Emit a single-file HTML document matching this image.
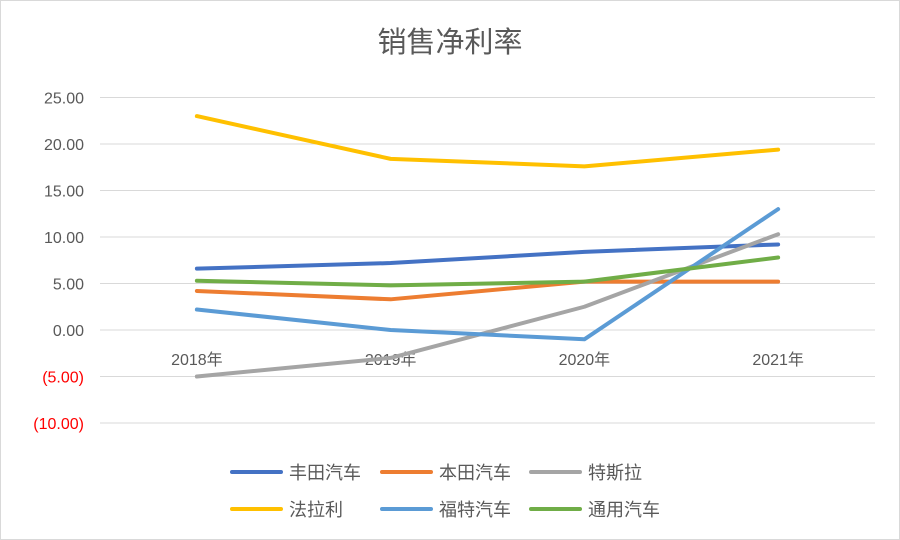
<!DOCTYPE html>
<html><head><meta charset="utf-8"><style>
body{margin:0;background:#fff}
svg{display:block;font-family:"Liberation Sans","Noto Sans CJK SC",sans-serif}
</style></head><body>
<svg width="900" height="540" viewBox="0 0 900 540">
<rect x="0.5" y="0.5" width="899" height="539" fill="#fff" stroke="#d9d9d9"/>
<text x="450" y="52" font-size="29" fill="#595959" text-anchor="middle">销售净利率</text>
<g id="grid"></g><g id="ylab"></g><g id="xlab"></g><g id="series"></g><g id="legend"></g>
</svg>
<script>
const categories=["2018年","2019年","2020年","2021年"];
const seriesNames=["丰田汽车","本田汽车","特斯拉","法拉利","福特汽车","通用汽车"];
const toyota=[6.6,7.2,8.4,9.2];
const honda=[4.2,3.3,5.2,5.2];
const tesla=[-5.0,-3.0,2.5,10.3];
const ferrari=[23.0,18.4,17.6,19.4];
const ford=[2.2,0.0,-1.0,13.0];
const gm=[5.3,4.8,5.2,7.8];
const yTicks=[25,20,15,10,5,0,-5,-10];
const yTickLabels=["25.00","20.00","15.00","10.00","5.00","0.00","(5.00)","(10.00)"];
const colors=["#4472c4","#ed7d31","#a5a5a5","#ffc000","#5b9bd5","#70ad47"];
const allSeries=[toyota,honda,tesla,ferrari,ford,gm];
const NS="http://www.w3.org/2000/svg";
const x0=100,x1=875,yZero=330,pxPer=9.3;
const y=v=>yZero-v*pxPer;
const x=i=>x0+(x1-x0)*(i+0.5)/categories.length;
function mk(t,a,p){const e=document.createElementNS(NS,t);for(const k in a)e.setAttribute(k,a[k]);p.appendChild(e);return e;}
const grid=document.getElementById('grid'),ylab=document.getElementById('ylab'),xlab=document.getElementById('xlab'),ser=document.getElementById('series'),leg=document.getElementById('legend');
yTicks.forEach((v,i)=>{
 const l=mk('line',{x1:x0,x2:x1,y1:y(v),y2:y(v),stroke:"#d9d9d9","stroke-width":1},grid);
 
 
 const t=mk('text',{x:84,y:y(v)+6,"font-size":16,"text-anchor":"end",fill:v<0?"#ff0000":"#595959"},ylab);
 t.textContent=yTickLabels[i];
 
 
});
categories.forEach((c,i)=>{
 const t=mk('text',{x:x(i),y:y(0)+35,"font-size":16,"text-anchor":"middle",fill:"#595959"},xlab);
 t.textContent=c;
 
 
});
allSeries.forEach((s,k)=>{
 const p=mk('polyline',{points:s.map((v,i)=>x(i)+","+y(v)).join(" "),fill:"none",stroke:colors[k],"stroke-width":4,"stroke-linejoin":"round","stroke-linecap":"round"},ser);
 
 
});
const legPos=[[232,472],[382,472],[531,472],[232,509],[382,509],[531,509]];
seriesNames.forEach((n,k)=>{
 const [lx,ly]=legPos[k];
 const l=mk('line',{x1:lx,x2:lx+49,y1:ly,y2:ly,stroke:colors[k],"stroke-width":4,"stroke-linecap":"round"},leg);
 
 
 const t=mk('text',{x:lx+57,y:ly+7,"font-size":18,fill:"#595959"},leg);
 t.textContent=n;
 
 
});
</script>
</body></html>
